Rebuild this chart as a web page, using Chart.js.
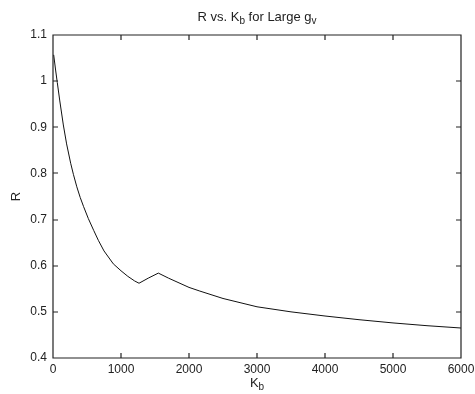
<!DOCTYPE html>
<html>
<head>
<meta charset="utf-8">
<script src="https://cdn.jsdelivr.net/npm/chart.js@4"></script>
<style>
  html, body { margin: 0; padding: 0; background: #fff; }
  canvas { display: block; }
</style>
</head>
<body>
<canvas id="rChart" width="475" height="394"></canvas>
<script>
// values
const kbValues = [10, 40, 63, 100, 152, 200, 260, 300, 350, 400, 450, 520, 600, 667, 750, 887, 1000, 1100, 1200, 1265,
                  1400, 1549, 1700, 2000, 2160, 2500, 3000, 3500, 4000, 4500, 5000, 5500, 6000];
const rValues = [1.057, 1.022, 0.997, 0.957, 0.905, 0.864, 0.822, 0.798, 0.771, 0.748, 0.728, 0.702, 0.676, 0.655, 0.632, 0.604, 0.589, 0.577, 0.567, 0.562,
                 0.573, 0.584, 0.573, 0.553, 0.545, 0.529, 0.511, 0.500, 0.491, 0.483, 0.476, 0.470, 0.465];
const xTicks = [0, 1000, 2000, 3000, 4000, 5000, 6000];
const yTicks = [0.4, 0.5, 0.6, 0.7, 0.8, 0.9, 1.0, 1.1];

const FONT = '"Liberation Sans", Arial, sans-serif';
const TEXT = '#222';

// draws text pieces with subscripts, centred on cx
function drawSubText(ctx, parts, cx, cy, size) {
    const subSize = Math.round(size * 0.8);
    let total = 0;
    parts.forEach(p => {
        ctx.font = (p.sub ? subSize : size) + 'px ' + FONT;
        p.w = ctx.measureText(p.t).width;
        total += p.w;
    });
    let x = cx - total / 2;
    ctx.textAlign = 'left';
    ctx.textBaseline = 'middle';
    parts.forEach(p => {
        ctx.font = (p.sub ? subSize : size) + 'px ' + FONT;
        ctx.fillText(p.t, x, p.sub ? cy + 4 : cy);
        x += p.w;
    });
}

// box around the axes, inward ticks on all four sides, and the labels
const matlabAxes = {
    id: 'matlabAxes',
    afterDraw(chart) {
        const ctx = chart.ctx;
        const a = chart.chartArea;
        const x = chart.scales.x, y = chart.scales.y;
        ctx.save();
        ctx.strokeStyle = '#222';
        ctx.lineWidth = 1.2;
        const L = Math.round(a.left), R = Math.round(a.right);
        const T = Math.round(a.top), B = Math.round(a.bottom);
        const len = 5;
        ctx.beginPath();
        ctx.rect(L, T, R - L, B - T);
        xTicks.forEach(v => {
            const px = Math.round(x.getPixelForValue(v));
            ctx.moveTo(px, B); ctx.lineTo(px, B - len);
            ctx.moveTo(px, T); ctx.lineTo(px, T + len);
        });
        yTicks.forEach(v => {
            const py = Math.round(y.getPixelForValue(v));
            ctx.moveTo(L, py); ctx.lineTo(L + len, py);
            ctx.moveTo(R, py); ctx.lineTo(R - len, py);
        });
        ctx.stroke();

        ctx.fillStyle = TEXT;
        const cx = (a.left + a.right) / 2;
        drawSubText(ctx, [{ t: 'R vs. K' }, { t: 'b', sub: true }, { t: ' for Large g' }, { t: 'v', sub: true }], cx, 17, 13);
        drawSubText(ctx, [{ t: 'K' }, { t: 'b', sub: true }], cx, 383, 13);

        ctx.translate(16, (a.top + a.bottom) / 2);
        ctx.rotate(-Math.PI / 2);
        ctx.font = '13px ' + FONT;
        ctx.textAlign = 'center';
        ctx.textBaseline = 'middle';
        ctx.fillText('R', 0, 0);
        ctx.restore();
    }
};

new Chart(document.getElementById('rChart'), {
    type: 'line',
    data: {
        datasets: [{
            data: kbValues.map((k, i) => ({ x: k, y: rValues[i] })),
            borderColor: '#111',
            borderWidth: 1,
            pointRadius: 0,
            tension: 0,
            fill: false
        }]
    },
    options: {
        responsive: false,
        animation: false,
        layout: { padding: { top: 35, right: 14, left: 0, bottom: 0 } },
        plugins: {
            legend: { display: false },
            title: { display: false },
            tooltip: { enabled: false }
        },
        scales: {
            x: {
                type: 'linear',
                min: 0,
                max: 6000,
                afterFit: s => { s.height = 36; s.paddingLeft = 0; s.paddingRight = 0; },
                afterBuildTicks: s => { s.ticks = xTicks.map(v => ({ value: v })); },
                grid: { display: false, drawTicks: false },
                border: { display: false },
                ticks: {
                    color: TEXT,
                    padding: 4,
                    maxRotation: 0,
                    font: { family: FONT, size: 12 },
                    callback: v => String(v)
                }
            },
            y: {
                min: 0.4,
                max: 1.1,
                afterFit: s => { s.width = 53; s.paddingTop = 0; s.paddingBottom = 0; },
                afterBuildTicks: s => { s.ticks = yTicks.map(v => ({ value: v })); },
                grid: { display: false, drawTicks: false },
                border: { display: false },
                ticks: {
                    color: TEXT,
                    padding: 6,
                    font: { family: FONT, size: 12 },
                    callback: v => String(Number(v.toFixed(1)))
                }
            }
        }
    },
    plugins: [matlabAxes]
});
</script>
</body>
</html>
